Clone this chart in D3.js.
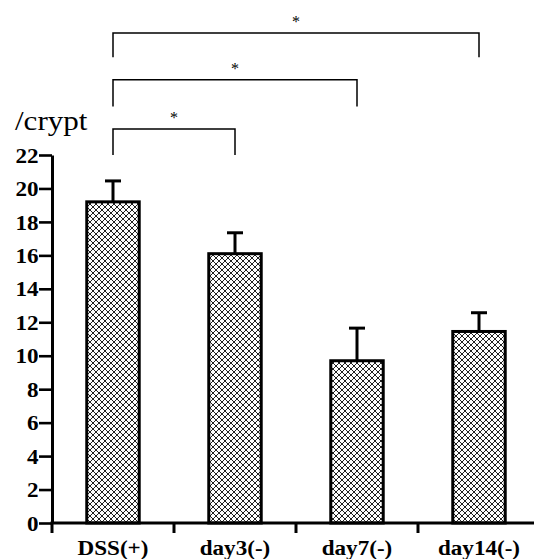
<!DOCTYPE html>
<html>
<head>
<meta charset="utf-8">
<script src="https://cdn.jsdelivr.net/npm/d3@7"></script>
<style>
  body { margin: 0; background: #fff; }
  svg { display: block; }
  svg text { font-family: 'Liberation Serif', 'Times New Roman', serif; fill: #000; }
</style>
</head>
<body>
<div id="chart"></div>
<script>
const w = 534
const h = 559

// data
const groups = ['DSS(+)', 'day3(-)', 'day7(-)', 'day14(-)']
const means = [19.2, 16.1, 9.7, 11.45]
const sem = [1.25, 1.25, 1.95, 1.12]
const yTicks = [0, 2, 4, 6, 8, 10, 12, 14, 16, 18, 20, 22]

// significance brackets: from group, to group, bar height level, drop level
const brFrom = [0, 0, 0]
const brTo = [1, 2, 3]
const brLevel = [23.55, 26.5, 29.3]
const brDrop = [22.0, 24.9, 27.85]
const brLabel = ['*', '*', '*']

const sx = 1.1 // the original type is a bit wide

const svg = d3.select('#chart')
    .append('svg')
    .attr('width', w)
    .attr('height', h)

const defs = svg.append('defs')
const pat = defs.append('pattern')
    .attr('id', 'hatch')
    .attr('patternUnits', 'userSpaceOnUse')
    .attr('width', 6)
    .attr('height', 6)
pat.append('rect').attr('width', 6).attr('height', 6).attr('fill', '#fff')
pat.append('path')
    .attr('d', 'M0,0 L6,6 M6,0 L0,6 M-1,5 L1,7 M5,-1 L7,1 M-1,1 L1,-1 M5,7 L7,5')
    .attr('stroke', '#222')
    .attr('stroke-width', 1)

const x0 = 52
const xScale = d3.scaleBand()
    .domain(groups)
    .range([x0, 540])
    .paddingInner(0.57)
    .paddingOuter(0.285)

const yScale = d3.scaleLinear()
    .domain([0, 22])
    .range([523, 155])

// bars
svg.selectAll('rect.bar')
    .data(means)
    .enter()
    .append('rect')
    .attr('class', 'bar')
    .attr('x', (d, i) => xScale(groups[i]))
    .attr('y', d => yScale(d))
    .attr('width', xScale.bandwidth())
    .attr('height', d => yScale(0) - yScale(d))
    .attr('fill', 'url(#hatch)')
    .attr('stroke', '#000')
    .attr('stroke-width', 3)

// error bars (upper only)
const cx = i => xScale(groups[i]) + xScale.bandwidth() / 2
svg.selectAll('line.err')
    .data(means)
    .enter()
    .append('line')
    .attr('x1', (d, i) => cx(i))
    .attr('x2', (d, i) => cx(i))
    .attr('y1', d => yScale(d))
    .attr('y2', (d, i) => yScale(d + sem[i]))
    .attr('stroke', '#000')
    .attr('stroke-width', 3)
svg.selectAll('line.cap')
    .data(means)
    .enter()
    .append('line')
    .attr('x1', (d, i) => cx(i) - 8)
    .attr('x2', (d, i) => cx(i) + 8)
    .attr('y1', (d, i) => yScale(d + sem[i]))
    .attr('y2', (d, i) => yScale(d + sem[i]))
    .attr('stroke', '#000')
    .attr('stroke-width', 3)

// y axis
const yAxis = svg.append('g')
    .attr('transform', 'translate(' + x0 + ',0)')
    .call(d3.axisLeft(yScale).tickValues(yTicks).tickSize(13).tickSizeOuter(0))
yAxis.attr('font-family', null)
yAxis.select('.domain').attr('stroke-width', 3)
yAxis.selectAll('.tick line').attr('stroke-width', 2.6)
yAxis.selectAll('text')
    .attr('x', -13.5 / sx)
    .attr('dy', '0.34em')
    .attr('transform', 'scale(' + sx + ',1)')
    .style('font-weight', 'bold')
    .style('font-size', '21px')

// x axis with ticks at group boundaries
const step = xScale.step()
const bounds = groups.map((g, i) => x0 + i * step)
svg.append('line')
    .attr('x1', x0 - 1.5)
    .attr('x2', 540)
    .attr('y1', yScale(0))
    .attr('y2', yScale(0))
    .attr('stroke', '#000')
    .attr('stroke-width', 3)
svg.selectAll('line.xt')
    .data(bounds)
    .enter()
    .append('line')
    .attr('x1', d => d)
    .attr('x2', d => d)
    .attr('y1', yScale(0))
    .attr('y2', yScale(0) + 10)
    .attr('stroke', '#000')
    .attr('stroke-width', 3)
svg.selectAll('text.xl')
    .data(groups)
    .enter()
    .append('text')
    .text(d => d)
    .attr('transform', d => 'translate(' + (xScale(d) + xScale.bandwidth() / 2) + ',555) scale(' + sx + ',1)')
    .attr('text-anchor', 'middle')
    .style('font-weight', 'bold')
    .style('font-size', '21px')

// axis title
svg.append('text')
    .text('/crypt')
    .attr('transform', 'translate(15,130) scale(1.15,1)')
    .style('font-size', '27px')

// significance brackets
brFrom.forEach((f, i) => {
    const xa = cx(f), xb = cx(brTo[i])
    const yl = yScale(brLevel[i]), yd = yScale(brDrop[i])
    svg.append('path')
        .attr('d', 'M' + xa + ',' + yd + ' L' + xa + ',' + yl + ' L' + xb + ',' + yl + ' L' + xb + ',' + yd)
        .attr('fill', 'none')
        .attr('stroke', '#000')
        .attr('stroke-width', 1.5)
    svg.append('text')
        .text(brLabel[i])
        .attr('x', (xa + xb) / 2)
        .attr('y', yl - 6)
        .attr('text-anchor', 'middle')
        .style('font-size', '16px')
})
</script>
</body>
</html>
